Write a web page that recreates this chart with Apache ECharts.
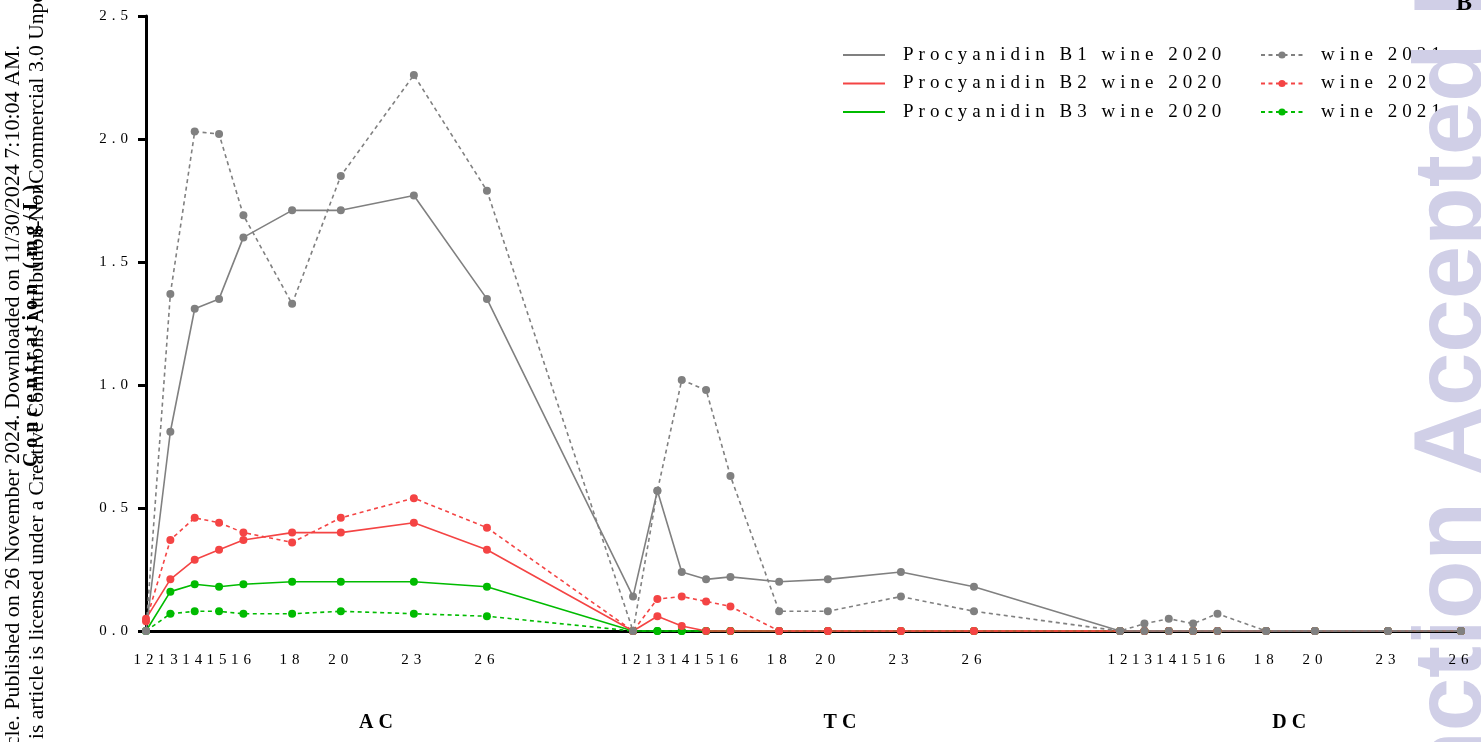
<!DOCTYPE html>
<html>
<head>
<meta charset="utf-8">
<script src="https://cdn.jsdelivr.net/npm/echarts@6/dist/echarts.min.js"></script>
<style>
  html, body { margin: 0; padding: 0; background: #fff; }
  #chart { width: 1481px; height: 742px; }
</style>
</head>
<body>
<div id="chart"></div>
<script>
// Sampling days within each stage
const days = [12, 13, 14, 15, 16, 18, 20, 23, 26];
const stages = ['AC', 'TC', 'DC'];

// Concentrations (mg/L), stage by stage: AC days, then TC days, then DC days
const b1Wine2020 = [0, 0.81, 1.31, 1.35, 1.60, 1.71, 1.71, 1.77, 1.35,
                    0.14, 0.57, 0.24, 0.21, 0.22, 0.20, 0.21, 0.24, 0.18,
                    0, 0, 0, 0, 0, 0, 0, 0, 0];
const b2Wine2020 = [0.05, 0.21, 0.29, 0.33, 0.37, 0.40, 0.40, 0.44, 0.33,
                    0, 0.06, 0.02, 0, 0, 0, 0, 0, 0,
                    0, 0, 0, 0, 0, 0, 0, 0, 0];
const b3Wine2020 = [0, 0.16, 0.19, 0.18, 0.19, 0.20, 0.20, 0.20, 0.18,
                    0, 0, 0, 0, 0, 0, 0, 0, 0,
                    0, 0, 0, 0, 0, 0, 0, 0, 0];
const b1Wine2021 = [0, 1.37, 2.03, 2.02, 1.69, 1.33, 1.85, 2.26, 1.79,
                    0, 0.57, 1.02, 0.98, 0.63, 0.08, 0.08, 0.14, 0.08,
                    0, 0.03, 0.05, 0.03, 0.07, 0, 0, 0, 0];
const b2Wine2021 = [0.04, 0.37, 0.46, 0.44, 0.40, 0.36, 0.46, 0.54, 0.42,
                    0, 0.13, 0.14, 0.12, 0.10, 0, 0, 0, 0,
                    0, 0, 0, 0, 0, 0, 0, 0, 0];
const b3Wine2021 = [0, 0.07, 0.08, 0.08, 0.07, 0.07, 0.08, 0.07, 0.06,
                    0, 0, 0, 0, 0, 0, 0, 0, 0,
                    0, 0, 0, 0, 0, 0, 0, 0, 0];

// The three stages share one numeric axis: each covers days 12..26, followed by a gap
const stageStride = 20;
const stageLabelAt = [9.55, 28.6, 47.05];

const SPACED = "'Times New Roman', 'Liberation Serif', serif";
const PLAIN = "'Liberation Serif', serif";

// Widely tracked lettering for the chart text (fonts named with Times New Roman)
(function () {
  const proto = CanvasRenderingContext2D.prototype;
  const orig = proto.fillText;
  proto.fillText = function () {
    if ('letterSpacing' in this) {
      this.letterSpacing = this.font.indexOf('Times New Roman') >= 0 ? '5px' : '0px';
    }
    return orig.apply(this, arguments);
  };
})();

function toPoints(values) {
  return values.map(function (v, i) {
    const stage = Math.floor(i / days.length);
    const day = days[i % days.length];
    return [stage * stageStride + day - days[0], v];
  });
}

const tickPositions = [];
stages.forEach(function (s, si) {
  days.forEach(function (d) { tickPositions.push(si * stageStride + d - days[0]); });
});
const xMax = (stages.length - 1) * stageStride + days[days.length - 1] - days[0];

const GREY = '#808080', RED = '#f44444', GREEN = '#00bb00';

function lineSeries(name, values, color, dashed) {
  return {
    name: name,
    type: 'line',
    xAxisIndex: 0,
    z: 3,
    data: toPoints(values),
    symbol: 'circle',
    symbolSize: 8,
    showSymbol: true,
    clip: false,
    itemStyle: { color: color },
    lineStyle: { color: color, width: 1.6, type: dashed ? [4, 3.5] : 'solid' },
    emphasis: { disabled: true },
    animation: false
  };
}

const names2020 = ['Procyanidin B1 wine 2020', 'Procyanidin B2 wine 2020', 'Procyanidin B3 wine 2020'];
const names2021 = ['Procyanidin B1 wine 2021', 'Procyanidin B2 wine 2021', 'Procyanidin B3 wine 2021'];

const legendText = { fontFamily: SPACED, fontSize: 19, color: '#000', lineHeight: 20, padding: [0, 0, 0, 13] };

const chart = echarts.init(document.getElementById('chart'), null, { renderer: 'canvas' });
chart.setOption({
  animation: false,
  backgroundColor: '#fff',
  grid: { left: 146, right: 20, top: 16, bottom: 111, outerBoundsMode: 'none' },
  xAxis: [{
    type: 'value', min: 0, max: xMax, z: 2,
    position: 'bottom',
    axisLine: { show: true, lineStyle: { color: '#000', width: 3 } },
    axisTick: { show: false },
    splitLine: { show: false },
    axisLabel: {
      customValues: tickPositions,
      formatter: function (v) { return String(days[0] + (Math.round(v) % stageStride)); },
      fontFamily: SPACED, fontSize: 15, color: '#000', margin: 22
    }
  }, {
    type: 'value', min: 0, max: xMax, z: 2,
    position: 'bottom',
    axisLine: { show: false }, axisTick: { show: false }, splitLine: { show: false },
    axisLabel: {
      customValues: stageLabelAt,
      formatter: function (v) { return stages[stageLabelAt.indexOf(v)]; },
      fontFamily: SPACED, fontSize: 20, fontWeight: 'bold', color: '#000', margin: 82
    }
  }],
  yAxis: {
    type: 'value', min: 0, max: 2.5, interval: 0.5, z: 2,
    name: 'Concentration (mg/L)', nameLocation: 'middle', nameGap: 104, nameMoveOverlap: false,
    nameTextStyle: { fontFamily: SPACED, fontSize: 20, fontWeight: 'bold', color: '#000' },
    axisLine: { show: true, lineStyle: { color: '#000', width: 3 } },
    axisTick: { show: true, inside: false, length: 8, lineStyle: { color: '#000', width: 3 } },
    splitLine: { show: false },
    axisLabel: {
      formatter: function (v) { return v.toFixed(1); },
      fontFamily: SPACED, fontSize: 15, color: '#000', margin: 13
    }
  },
  legend: [{
    orient: 'vertical', left: 838, top: 40, z: 0, itemWidth: 42, itemHeight: 2, itemGap: 8.5,
    icon: 'rect', selectedMode: false, data: names2020, textStyle: legendText
  }, {
    orient: 'vertical', left: 1255, top: 40, z: 0, itemWidth: 42, itemHeight: 9, itemGap: 8.5,
    selectedMode: false, data: names2021, textStyle: legendText,
    formatter: function () { return 'wine 2021'; }
  }],
  series: [
    lineSeries(names2021[2], b3Wine2021, GREEN, true),
    lineSeries(names2020[2], b3Wine2020, GREEN, false),
    lineSeries(names2021[1], b2Wine2021, RED, true),
    lineSeries(names2020[1], b2Wine2020, RED, false),
    lineSeries(names2021[0], b1Wine2021, GREY, true),
    lineSeries(names2020[0], b1Wine2020, GREY, false)
  ],
  graphic: [{
    type: 'text', z: 1, x: 1455, y: 790, rotation: Math.PI / 2,
    style: { text: 'nction Accepted M', fontFamily: "'Liberation Sans', sans-serif", fontWeight: 'bold',
             fontSize: 96, fill: '#d0cfe7', align: 'left', verticalAlign: 'middle' }
  }, {
    type: 'text', z: 10, x: 13, y: 45, rotation: Math.PI / 2,
    style: { text: 'cle. Published on 26 November 2024. Downloaded on 11/30/2024 7:10:04 AM.',
             fontFamily: PLAIN, fontSize: 22, fill: '#000', align: 'right', verticalAlign: 'middle' }
  }, {
    type: 'text', z: 10, x: 37, y: -8, rotation: Math.PI / 2,
    style: { text: 'is article is licensed under a Creative Commons Attribution-NonCommercial 3.0 Unpo',
             fontFamily: PLAIN, fontSize: 21.5, fill: '#000', align: 'right', verticalAlign: 'middle' }
  }, {
    type: 'text', z: 10, x: 1456, y: 4,
    style: { text: 'B', fontFamily: PLAIN, fontWeight: 'bold', fontSize: 24, fill: '#000',
             align: 'left', verticalAlign: 'middle' }
  }]
});
</script>
</body>
</html>
